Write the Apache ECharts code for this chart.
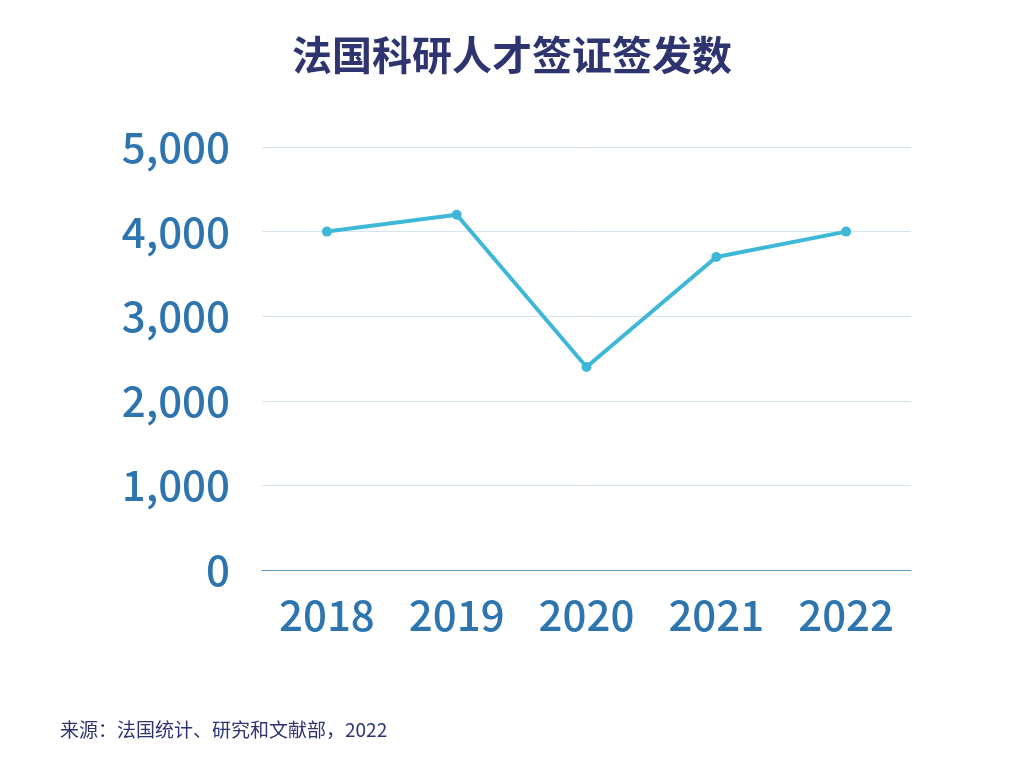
<!DOCTYPE html>
<html>
<head>
<meta charset="utf-8">
<script src="https://cdn.jsdelivr.net/npm/echarts@6/dist/echarts.min.js"></script>
<style>
html,body{margin:0;padding:0;background:#fff;}
#chart{width:1024px;height:768px;}
</style>
</head>
<body>
<div id="chart"></div>
<script>
var years = ['2018', '2019', '2020', '2021', '2022'];
var visas = [4000, 4200, 2400, 3700, 4000];

var chart = echarts.init(document.getElementById('chart'));
var option = {
    backgroundColor: '#fff',
    title: {
        text: '法国科研人才签证签发数',
        left: 'center',
        top: 30,
        textStyle: {
            color: '#2d3470',
            fontSize: 40,
            fontWeight: 'bold',
            fontFamily: 'Noto Sans CJK SC'
        }
    },
    graphic: [{
        type: 'text',
        left: 60,
        top: 720,
        style: {
            text: '来源：法国统计、研究和文献部，2022',
            fill: '#2d3470',
            fontSize: 19,
            fontFamily: 'Noto Sans CJK SC'
        }
    }],
    grid: {
        left: 262,
        right: 113,
        top: 147,
        bottom: 198
    },
    xAxis: {
        type: 'category',
        data: years,
        boundaryGap: true,
        axisLine: { lineStyle: { color: '#5b9bc8', width: 1 } },
        axisTick: { show: false },
        axisLabel: {
            color: '#2e75b0',
            fontSize: 42,
            fontWeight: 500,
            margin: 24,
            fontFamily: 'Noto Sans CJK SC'
        }
    },
    yAxis: {
        type: 'value',
        min: 0,
        max: 5000,
        interval: 1000,
        axisLine: { show: false },
        axisTick: { show: false },
        splitLine: { lineStyle: { color: '#d6e4ee' } },
        axisLabel: {
            color: '#2e75b0',
            fontSize: 42,
            fontWeight: 500,
            margin: 32,
            fontFamily: 'Noto Sans CJK SC',
            formatter: function (v) { return v.toLocaleString('en-US'); }
        }
    },
    series: [{
        type: 'line',
        data: visas,
        symbol: 'circle',
        symbolSize: 10,
        lineStyle: { color: '#3fb8d8', width: 4 },
        itemStyle: { color: '#3fb8d8' },
        animation: false
    }]
};
chart.setOption(option);
</script>
</body>
</html>
